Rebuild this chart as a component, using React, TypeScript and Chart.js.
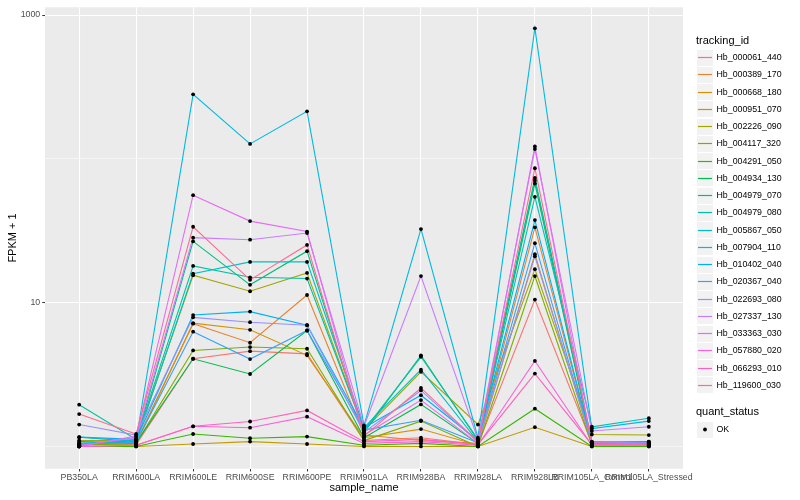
import React, { useEffect, useRef } from "react";
import { Chart, registerables } from "chart.js";

Chart.register(...registerables);

const categories = [
  "PB350LA", "RRIM600LA", "RRIM600LE", "RRIM600SE", "RRIM600PE", "RRIM901LA",
  "RRIM928BA", "RRIM928LA", "RRIM928LB", "RRIM105LA_Control", "RRIM105LA_Stressed",
];

const trackingIds = [
  "Hb_000061_440", "Hb_000389_170", "Hb_000668_180", "Hb_000951_070", "Hb_002226_090",
  "Hb_004117_320", "Hb_004291_050", "Hb_004934_130", "Hb_004979_070", "Hb_004979_080",
  "Hb_005867_050", "Hb_007904_110", "Hb_010402_040", "Hb_020367_040", "Hb_022693_080",
  "Hb_027337_130", "Hb_033363_030", "Hb_057880_020", "Hb_066293_010", "Hb_119600_030",
];

// FPKM + 1 per sample
const hb_000061_440 = [1.05, 1.03, 4.07, 4.6, 4.4, 1.1, 1.15, 1.03, 10.5, 1.05, 1.03];
const hb_000389_170 = [1.02, 1.08, 7.14, 5.26, 11.3, 1.2, 1.1, 1.05, 33.4, 1.06, 1.05];
const hb_000668_180 = [1.03, 1.05, 7.2, 6.47, 4.3, 1.15, 1.32, 1.02, 21.7, 1.04, 1.06];
const hb_000951_070 = [1.0, 1.0, 1.04, 1.08, 1.04, 1.0, 1.0, 1.0, 1.36, 1.0, 1.0];
const hb_002226_090 = [1.1, 1.1, 15.5, 12.0, 16.1, 1.3, 3.3, 1.42, 17.1, 1.21, 1.2];
const hb_004117_320 = [1.02, 1.05, 4.65, 4.91, 4.78, 1.1, 1.5, 1.0, 15.3, 1.02, 1.02];
const hb_004291_050 = [1.0, 1.0, 1.22, 1.14, 1.17, 1.02, 1.05, 1.0, 1.83, 1.0, 1.0];
const hb_004934_130 = [1.08, 1.06, 4.07, 3.19, 6.4, 1.15, 1.96, 1.05, 67.4, 1.04, 1.06];
const hb_004979_070 = [1.03, 1.1, 26.7, 13.3, 22.8, 1.25, 4.3, 1.1, 73.6, 1.06, 1.08];
const hb_004979_080 = [1.95, 1.12, 18.0, 15.0, 14.7, 1.3, 4.2, 1.12, 70.7, 1.08, 1.05];
const hb_005867_050 = [1.16, 1.08, 15.9, 19.2, 19.2, 1.35, 3.42, 1.08, 54.4, 1.37, 1.57];
const hb_007904_110 = [1.05, 1.1, 281, 127, 214, 1.4, 32.5, 1.15, 809, 1.33, 1.5];
const hb_010402_040 = [1.16, 1.12, 8.2, 8.66, 6.96, 1.35, 2.27, 1.1, 37.5, 1.07, 1.08];
const hb_020367_040 = [1.04, 1.07, 6.28, 4.05, 6.4, 1.3, 1.52, 1.06, 25.9, 1.05, 1.05];
const hb_022693_080 = [1.42, 1.2, 7.9, 7.31, 6.96, 1.25, 2.45, 1.07, 21.0, 1.07, 1.06];
const hb_027337_130 = [1.02, 1.15, 28.3, 27.4, 30.5, 1.38, 15.3, 1.12, 117, 1.28, 1.37];
const hb_033363_030 = [1.0, 1.18, 55.9, 36.9, 31.2, 1.2, 2.1, 1.05, 122, 1.04, 1.03];
const hb_057880_020 = [1.0, 1.02, 1.38, 1.35, 1.61, 1.05, 1.08, 1.02, 3.93, 1.02, 1.02];
const hb_066293_010 = [1.0, 1.02, 1.38, 1.49, 1.78, 1.08, 1.12, 1.03, 3.21, 1.03, 1.04];
const hb_119600_030 = [1.68, 1.22, 33.7, 14.4, 25.2, 1.18, 2.55, 1.08, 86.0, 1.06, 1.04];

const seriesValues = [
  hb_000061_440, hb_000389_170, hb_000668_180, hb_000951_070, hb_002226_090,
  hb_004117_320, hb_004291_050, hb_004934_130, hb_004979_070, hb_004979_080,
  hb_005867_050, hb_007904_110, hb_010402_040, hb_020367_040, hb_022693_080,
  hb_027337_130, hb_033363_030, hb_057880_020, hb_066293_010, hb_119600_030,
];

const yTickValues = [1, 10, 100, 1000];
const yLabelled = [10, 1000];

const palette = [
  "#F8766D", "#EA8331", "#D89000", "#C09B00", "#A3A500", "#7CAE00", "#39B600",
  "#00BB4E", "#00BF7D", "#00C1A3", "#00BFC4", "#00BAE0", "#00B0F6", "#35A2FF",
  "#9590FF", "#C77CFF", "#E76BF3", "#FA62DB", "#FF62BC", "#FF6C91",
];

const FONT = "'Liberation Sans', Arial, Helvetica, sans-serif";

const panelBg = {
  id: "panelBg",
  beforeDraw(chart: any) {
    const { ctx, chartArea } = chart;
    const { left, top, right, bottom } = chartArea;
    ctx.save();
    ctx.fillStyle = "#EBEBEB";
    ctx.fillRect(left, top, right - left, bottom - top);
    ctx.restore();
  },
};

const ggLegend = {
  id: "ggLegend",
  afterDraw(chart: any) {
    const ctx = chart.ctx;
    const x0 = 697;
    const keyW = 16;
    const keyH = 16;
    const step = 17.25;
    ctx.save();
    ctx.textBaseline = "middle";
    ctx.textAlign = "left";
    ctx.fillStyle = "#000";
    ctx.font = `11px ${FONT}`;
    ctx.fillText("tracking_id", 696, 40.7);
    ctx.font = `8.8px ${FONT}`;
    trackingIds.forEach((id, i) => {
      const cy = 57.7 + i * step;
      const ly = Math.floor(cy) + 0.5;
      ctx.fillStyle = "#F2F2F2";
      ctx.fillRect(x0, Math.round(cy - keyH / 2), keyW, keyH);
      ctx.strokeStyle = palette[i];
      ctx.lineWidth = 1.2;
      ctx.beginPath();
      ctx.moveTo(x0 + 1, ly);
      ctx.lineTo(x0 + keyW - 1, ly);
      ctx.stroke();
      ctx.fillStyle = "#000";
      ctx.fillText(id, 716.5, cy);
    });
    ctx.font = `11px ${FONT}`;
    ctx.fillText("quant_status", 696, 412.3);
    const cy = 429.5;
    ctx.fillStyle = "#F2F2F2";
    ctx.fillRect(x0, Math.round(cy - keyH / 2), keyW, keyH);
    ctx.fillStyle = "#000";
    ctx.beginPath();
    ctx.arc(x0 + keyW / 2, cy, 1.9, 0, Math.PI * 2);
    ctx.fill();
    ctx.font = `8.8px ${FONT}`;
    ctx.fillText("OK", 716.5, cy);
    ctx.restore();
  },
};

export default function App() {
  const canvasRef = useRef<HTMLCanvasElement | null>(null);

  useEffect(() => {
    document.body.style.margin = "0";
    const canvas = canvasRef.current;
    if (!canvas) return;

    const lineSets = seriesValues.map((vals, i) => ({
      type: "line" as const,
      label: trackingIds[i],
      data: vals.map((v, j) => ({ x: j + 1, y: v })),
      borderColor: palette[i],
      backgroundColor: palette[i],
      borderWidth: 1.1,
      pointRadius: 0,
      fill: false,
      tension: 0,
      order: 1000 - i,
    }));

    const pointSet = {
      type: "line" as const,
      label: "OK",
      data: seriesValues.flatMap((vals) => vals.map((v, j) => ({ x: j + 1, y: v }))),
      showLine: false,
      pointRadius: 1.9,
      pointBackgroundColor: "#000",
      pointBorderWidth: 0,
      borderColor: "#000",
      order: 0,
    };

    const chart = new Chart(canvas, {
      type: "line",
      data: { datasets: [...lineSets, pointSet] as any },
      options: {
        responsive: false,
        animation: false,
        events: [],
        layout: { padding: { left: 0, right: 117, top: 5, bottom: 0 } },
        plugins: { legend: { display: false }, tooltip: { enabled: false } },
        scales: {
          x: {
            type: "linear",
            min: 0.4,
            max: 11.6,
            afterBuildTicks: (s: any) => {
              s.ticks = categories.map((_, i) => ({ value: i + 1 }));
            },
            afterFit: (s: any) => {
              s.height = 31.3;
            },
            ticks: {
              autoSkip: false,
              maxRotation: 0,
              minRotation: 0,
              padding: 1,
              color: "#4D4D4D",
              font: { family: FONT, size: 8.8 },
              callback: (v: any) => categories[Math.round(Number(v)) - 1] ?? "",
            },
            grid: {
              color: "#FFFFFF",
              lineWidth: 1.07,
              tickLength: 2.75,
              tickColor: "#333333",
              tickWidth: 1,
            },
            border: { display: false },
            title: {
              display: true,
              text: "sample_name",
              color: "#000",
              font: { family: FONT, size: 11 },
              padding: { top: 0, bottom: 5 },
            },
          },
          y: {
            type: "logarithmic",
            min: Math.pow(10, -0.146),
            max: Math.pow(10, 3.054),
            afterBuildTicks: (s: any) => {
              s.ticks = yTickValues.map((v) => ({ value: v }));
            },
            afterFit: (s: any) => {
              s.width = 45;
            },
            ticks: {
              padding: 2,
              color: "#4D4D4D",
              font: { family: FONT, size: 8.8 },
              callback: (v: any) => (yLabelled.includes(Number(v)) ? String(v) : ""),
            },
            grid: {
              color: "#FFFFFF",
              lineWidth: (c: any) => (c.tick && yLabelled.includes(c.tick.value) ? 1.07 : 0.53),
              tickLength: 2.75,
              tickColor: (c: any) =>
                c.tick && yLabelled.includes(c.tick.value) ? "#333333" : "rgba(0,0,0,0)",
              tickWidth: 1,
            },
            border: { display: false },
            title: {
              display: true,
              text: "FPKM + 1",
              color: "#000",
              font: { family: FONT, size: 11 },
              padding: { top: 6, bottom: 0 },
            },
          },
        },
      },
      plugins: [panelBg, ggLegend],
    });

    return () => chart.destroy();
  }, []);

  return (
    <div style={{ width: 800, height: 500 }}>
      <canvas ref={canvasRef} width={800} height={500} style={{ display: "block" }} />
    </div>
  );
}
